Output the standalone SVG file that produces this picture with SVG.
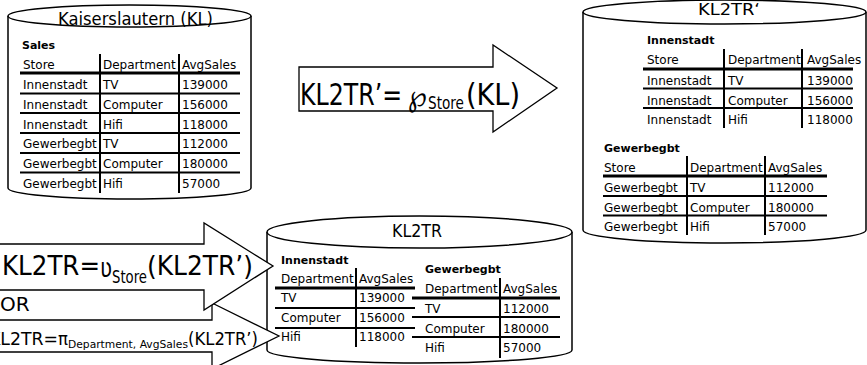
<svg xmlns="http://www.w3.org/2000/svg" width="867" height="365" viewBox="0 0 867 365">
<style>
.cyl{fill:#fff;stroke:#000;stroke-width:1.5}
.arr{fill:#fff;stroke:#000;stroke-width:1.3;stroke-linejoin:miter}
text{font-family:"DejaVu Sans",Verdana,sans-serif;fill:#000}
.t{font-size:12px}
.b{font-size:11px;font-weight:bold}
.hl{stroke:#000;stroke-width:3}
.rl{stroke:#000;stroke-width:2}
.vl{stroke:#000;stroke-width:2}
</style>
<rect width="867" height="365" fill="#fff"/>

<g id="node-KL">
  <path class="cyl" d="M8,16 V188 A121.5,11 0 0 0 251,188 V16"/>
  <ellipse class="cyl" cx="129.5" cy="16" rx="121.5" ry="11"/>
  <text x="58" y="25" font-size="18" textLength="155" lengthAdjust="spacingAndGlyphs">Kaiserslautern (KL)</text>
  <text class="b" x="22" y="49">Sales</text>
  <g class="t">
    <text class="t" x="23" y="69">Store</text><text class="t" x="103" y="69">Department</text><text class="t" x="182" y="69">AvgSales</text>
    <text class="t" x="23" y="89">Innenstadt</text><text class="t" x="103" y="89">TV</text><text class="t" x="182" y="89">139000</text>
    <text class="t" x="23" y="109">Innenstadt</text><text class="t" x="103" y="109">Computer</text><text class="t" x="182" y="109">156000</text>
    <text class="t" x="23" y="128.5">Innenstadt</text><text class="t" x="103" y="128.5">Hifi</text><text class="t" x="182" y="128.5">118000</text>
    <text class="t" x="23" y="148">Gewerbegbt</text><text class="t" x="103" y="148">TV</text><text class="t" x="182" y="148">112000</text>
    <text class="t" x="23" y="168">Gewerbegbt</text><text class="t" x="103" y="168">Computer</text><text class="t" x="182" y="168">180000</text>
    <text class="t" x="23" y="188">Gewerbegbt</text><text class="t" x="103" y="188">Hifi</text><text class="t" x="182" y="188">57000</text>
  </g>
  <line class="hl" x1="20" y1="73" x2="240" y2="73"/>
  <line class="rl" x1="20" y1="93.5" x2="240" y2="93.5"/>
  <line class="rl" x1="20" y1="113" x2="240" y2="113"/>
  <line class="rl" x1="20" y1="133" x2="240" y2="133"/>
  <line class="rl" x1="20" y1="153" x2="240" y2="153"/>
  <line class="rl" x1="20" y1="172.5" x2="240" y2="172.5"/>
  <line class="vl" x1="100" y1="54" x2="100" y2="193"/>
  <line class="vl" x1="179" y1="54" x2="179" y2="193"/>
</g>

<g id="node-KL2TR-prime">
  <path class="cyl" d="M583,12 V230 A141.5,13 0 0 0 866,230 V12"/>
  <ellipse class="cyl" cx="724.5" cy="12" rx="141.5" ry="12"/>
  <text x="698" y="15" font-size="16.5" textLength="62" lengthAdjust="spacingAndGlyphs">KL2TR‘</text>
  <text class="b" x="647" y="44">Innenstadt</text>
  <text class="t" x="647" y="64">Store</text><text class="t" x="728" y="64">Department</text><text class="t" x="807" y="64">AvgSales</text>
  <text class="t" x="647" y="85">Innenstadt</text><text class="t" x="728" y="85">TV</text><text class="t" x="807" y="85">139000</text>
  <text class="t" x="647" y="104.5">Innenstadt</text><text class="t" x="728" y="104.5">Computer</text><text class="t" x="807" y="104.5">156000</text>
  <text class="t" x="647" y="124">Innenstadt</text><text class="t" x="728" y="124">Hifi</text><text class="t" x="807" y="124">118000</text>
  <line class="hl" x1="643" y1="69" x2="853" y2="69"/>
  <line class="rl" x1="643" y1="88.5" x2="853" y2="88.5"/>
  <line class="rl" x1="643" y1="108" x2="853" y2="108"/>
  <line class="vl" x1="724" y1="49" x2="724" y2="128"/>
  <line class="vl" x1="802" y1="49" x2="802" y2="128"/>
  <text class="b" x="604" y="152">Gewerbegbt</text>
  <text class="t" x="604" y="172">Store</text><text class="t" x="690" y="172">Department</text><text class="t" x="768" y="172">AvgSales</text>
  <text class="t" x="604" y="192">Gewerbegbt</text><text class="t" x="690" y="192">TV</text><text class="t" x="768" y="192">112000</text>
  <text class="t" x="604" y="211.5">Gewerbegbt</text><text class="t" x="690" y="211.5">Computer</text><text class="t" x="768" y="211.5">180000</text>
  <text class="t" x="604" y="231">Gewerbegbt</text><text class="t" x="690" y="231">Hifi</text><text class="t" x="768" y="231">57000</text>
  <line class="hl" x1="603" y1="176" x2="827" y2="176"/>
  <line class="rl" x1="603" y1="196" x2="827" y2="196"/>
  <line class="rl" x1="603" y1="215.5" x2="827" y2="215.5"/>
  <line class="vl" x1="687" y1="156" x2="687" y2="235"/>
  <line class="vl" x1="765" y1="156" x2="765" y2="235"/>
</g>

<g id="node-KL2TR">
  <path class="cyl" d="M267,232 V350 A152.5,13 0 0 0 572,350 V232"/>
  <ellipse class="cyl" cx="419.5" cy="232" rx="152.5" ry="16"/>
  <text x="392" y="237" font-size="17" textLength="50" lengthAdjust="spacingAndGlyphs">KL2TR</text>
  <text class="b" x="281" y="264">Innenstadt</text>
  <text class="t" x="281" y="283">Department</text><text class="t" x="359" y="283">AvgSales</text>
  <text class="t" x="281" y="302">TV</text><text class="t" x="359" y="302">139000</text>
  <text class="t" x="281" y="322">Computer</text><text class="t" x="359" y="322">156000</text>
  <text class="t" x="281" y="341">Hifi</text><text class="t" x="359" y="341">118000</text>
  <line class="hl" x1="275" y1="288" x2="415" y2="288"/>
  <line class="rl" x1="275" y1="308" x2="415" y2="308"/>
  <line class="rl" x1="275" y1="328" x2="415" y2="328"/>
  <line class="vl" x1="356" y1="268" x2="356" y2="347"/>
  <text class="b" x="425" y="273">Gewerbegbt</text>
  <text class="t" x="425" y="293">Department</text><text class="t" x="503" y="293">AvgSales</text>
  <text class="t" x="425" y="313">TV</text><text class="t" x="503" y="313">112000</text>
  <text class="t" x="425" y="332.5">Computer</text><text class="t" x="503" y="332.5">180000</text>
  <text class="t" x="425" y="352">Hifi</text><text class="t" x="503" y="352">57000</text>
  <line class="hl" x1="412" y1="298" x2="560" y2="298"/>
  <line class="rl" x1="412" y1="317" x2="560" y2="317"/>
  <line class="rl" x1="412" y1="337" x2="560" y2="337"/>
  <line class="vl" x1="500" y1="278" x2="500" y2="358"/>
</g>

<g id="connectors">
  <g id="arrow-partition">
    <polygon class="arr" points="299,67 493,67 493,45 557,88 493,132 493,111 299,111"/>
    <text x="300" y="105" font-size="30" textLength="102" lengthAdjust="spacingAndGlyphs">KL2TR’=</text>
    <text x="408" y="106" font-size="29" textLength="19" lengthAdjust="spacingAndGlyphs">℘</text>
    <text x="428" y="109" font-size="17" textLength="36" lengthAdjust="spacingAndGlyphs">Store</text>
    <text x="466" y="105" font-size="30" textLength="54" lengthAdjust="spacingAndGlyphs">(KL)</text>
  </g>
  <g id="arrow-project">
    <polygon class="arr" points="-2,320 212,320 212,303 279,336 212,369 212,352 -2,352"/>
    <text x="-11" y="345" font-size="17" textLength="69" lengthAdjust="spacingAndGlyphs">KL2TR=</text>
    <text x="58" y="345" font-size="17" textLength="10" lengthAdjust="spacingAndGlyphs">π</text>
    <text x="68" y="348" font-size="11" textLength="120" lengthAdjust="spacingAndGlyphs">Department, AvgSales</text>
    <text x="188" y="345" font-size="17" textLength="70" lengthAdjust="spacingAndGlyphs">(KL2TR’)</text>
  </g>
  <g id="arrow-unnest">
    <polygon class="arr" points="-2,244 204,244 204,223 273,266 204,310 204,290 -2,290"/>
    <text x="2" y="275" font-size="27" textLength="98" lengthAdjust="spacingAndGlyphs">KL2TR=</text>
    <text x="100" y="277" font-size="26" textLength="12" lengthAdjust="spacingAndGlyphs">ʋ</text>
    <text x="112" y="283" font-size="17" textLength="35" lengthAdjust="spacingAndGlyphs">Store</text>
    <text x="147" y="275" font-size="27" textLength="106" lengthAdjust="spacingAndGlyphs">(KL2TR’)</text>
  </g>
  <text x="0" y="311" font-size="20">OR</text>
</g>
</svg>
